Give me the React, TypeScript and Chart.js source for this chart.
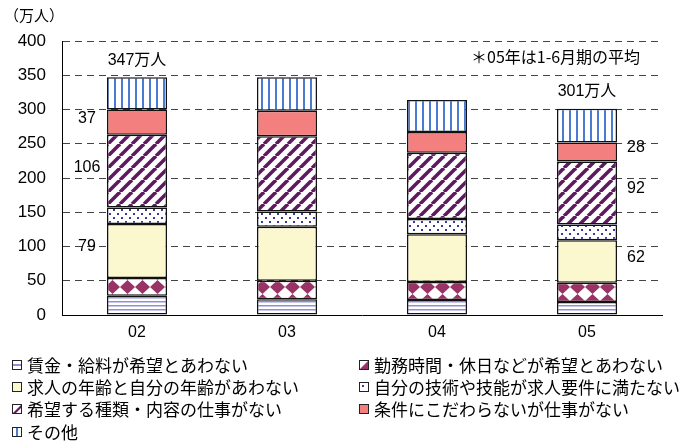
import React, { useEffect, useRef } from 'react';
import { Chart, registerables } from 'chart.js';

Chart.register(...registerables);

const categories = ['02', '03', '04', '05'];
const wage = [28, 23, 22, 19];
const hours = [26, 27, 26, 28];
const age = [79, 79, 70, 62];
const skill = [24, 22, 22, 23];
const kind = [106, 110, 97, 92];
const anyJob = [37, 37, 30, 28];
const other = [47, 49, 47, 49];

const seriesNames = [
  '賃金・給料が希望とあわない',
  '勤務時間・休日などが希望とあわない',
  '求人の年齢と自分の年齢があわない',
  '自分の技術や技能が求人要件に満たない',
  '希望する種類・内容の仕事がない',
  '条件にこだわらないが仕事がない',
  'その他',
];
const seriesValues = [wage, hours, age, skill, kind, anyJob, other];

const yMin = 0;
const yMax = 400;
const yStep = 50;

const totalLabels = ['347万人', '', '', '301万人'];
const leftBar = 0;
const leftSeries = [2, 4, 5];
const leftTexts = ['79', '106', '37'];
const rightBar = 3;
const rightSeries = [2, 4, 5];
const rightTexts = ['62', '92', '28'];

const unitLabel = '（万人）';
const noteLabel = '＊05年は1-6月期の平均';

const NUM_FONT = '"Liberation Sans", "Noto Sans CJK JP", sans-serif';
const JP_FONT = '"Noto Sans CJK JP", "Liberation Sans", sans-serif';

function tile(w: number, h: number, bg: string, draw: (c: CanvasRenderingContext2D) => void): CanvasPattern {
  const cv = document.createElement('canvas');
  cv.width = w;
  cv.height = h;
  const c = cv.getContext('2d')!;
  c.fillStyle = bg;
  c.fillRect(0, 0, w, h);
  draw(c);
  const ctx = document.createElement('canvas').getContext('2d')!;
  return ctx.createPattern(cv, 'repeat') as CanvasPattern;
}

function makeFills(): (string | CanvasPattern)[] {
  const stripesH = tile(4, 4, '#ffffff', (c) => {
    c.fillStyle = '#8e8ed2';
    c.fillRect(0, 1, 4, 1);
    c.fillStyle = '#c9c9ee';
    c.fillRect(0, 2, 4, 1);
  });
  const diamonds = tile(15, 14, '#ffffff', (c) => {
    c.fillStyle = '#993366';
    c.beginPath();
    c.moveTo(7.5, 0);
    c.lineTo(15, 7);
    c.lineTo(7.5, 14);
    c.lineTo(0, 7);
    c.closePath();
    c.fill();
  });
  const dots = tile(8, 8, '#ffffff', (c) => {
    c.fillStyle = '#3a3aa0';
    c.fillRect(1, 1, 2, 2);
    c.fillRect(5, 5, 2, 2);
  });
  const diag = tile(12, 12, '#ffffff', (c) => {
    c.strokeStyle = '#5e1a5e';
    c.lineWidth = 3.5;
    for (const o of [-12, 0, 12]) {
      c.beginPath();
      c.moveTo(o, 12);
      c.lineTo(o + 12, 0);
      c.stroke();
    }
  });
  const vstripes = tile(7, 4, '#ffffff', (c) => {
    c.fillStyle = '#4a7bd0';
    c.fillRect(2, 0, 2, 4);
  });
  return [stripesH, diamonds, '#fbf8d0', dots, diag, '#f47f7f', vstripes];
}

function drawSwatch(c: CanvasRenderingContext2D, i: number, x: number, y: number, s: number) {
  c.save();
  c.fillStyle = '#ffffff';
  c.fillRect(x, y, s, s);
  if (i === 0) {
    c.fillStyle = '#8e8ed2';
    c.fillRect(x, y + s / 2 - 1, s, 2);
  } else if (i === 1) {
    c.fillStyle = '#993366';
    c.beginPath();
    c.moveTo(x + s, y);
    c.lineTo(x + s, y + s);
    c.lineTo(x, y + s);
    c.closePath();
    c.fill();
  } else if (i === 2) {
    c.fillStyle = '#fbf8d0';
    c.fillRect(x, y, s, s);
  } else if (i === 3) {
    c.fillStyle = '#3a3aa0';
    c.fillRect(x + 3, y + 3, 2, 2);
  } else if (i === 4) {
    c.fillStyle = '#5e1a5e';
    c.beginPath();
    c.moveTo(x + s, y);
    c.lineTo(x + s, y + 3);
    c.lineTo(x + 3, y + s);
    c.lineTo(x, y + s);
    c.closePath();
    c.fill();
  } else if (i === 5) {
    c.fillStyle = '#f47f7f';
    c.fillRect(x, y, s, s);
  } else if (i === 6) {
    c.fillStyle = '#4a7bd0';
    c.fillRect(x + s / 2 - 1, y, 2, s);
  }
  c.strokeStyle = '#222';
  c.lineWidth = 1;
  c.strokeRect(x + 0.5, y + 0.5, s - 1, s - 1);
  c.restore();
}

const overlayPlugin = {
  id: 'overlay',
  afterDraw(chart: any) {
    const c: CanvasRenderingContext2D = chart.ctx;
    const xs = chart.scales.x;
    const ys = chart.scales.y;
    c.save();
    c.fillStyle = '#000';
    c.textBaseline = 'middle';

    c.textAlign = 'left';
    c.font = '15px ' + JP_FONT;
    c.fillText(unitLabel, 4, 15);

    c.font = '16px ' + JP_FONT;
    c.textAlign = 'left';
    c.fillText(noteLabel, 471, 57);

    c.textAlign = 'center';
    c.font = '16px ' + NUM_FONT;
    totalLabels.forEach((t, i) => {
      if (!t) return;
      const tot = seriesValues.reduce((s, a) => s + a[i], 0);
      c.fillText(t, xs.getPixelForValue(i), ys.getPixelForValue(tot) - 17);
    });

    const segMid = (bar: number, si: number) => {
      let base = 0;
      for (let k = 0; k < si; k++) base += seriesValues[k][bar];
      return ys.getPixelForValue(base + seriesValues[si][bar] / 2) - 4;
    };
    c.font = '16px ' + NUM_FONT;
    leftSeries.forEach((si, k) => {
      c.fillText(leftTexts[k], xs.getPixelForValue(leftBar) - 50, segMid(leftBar, si));
    });
    rightSeries.forEach((si, k) => {
      c.fillText(rightTexts[k], xs.getPixelForValue(rightBar) + 49, segMid(rightBar, si));
    });

    c.textAlign = 'left';
    c.font = '17px ' + JP_FONT;
    const colX = [12, 359];
    const rowY = [365, 387, 409, 432];
    seriesNames.forEach((name, i) => {
      const col = i % 2;
      const row = Math.floor(i / 2);
      const bx = colX[col];
      const cy = rowY[row];
      drawSwatch(c, i, bx, cy - 5, 10);
      c.fillStyle = '#000';
      c.fillText(name, bx + 15, cy + 1);
    });
    c.restore();
  },
};

export default function App() {
  const ref = useRef<HTMLCanvasElement>(null);
  useEffect(() => {
    const canvas = ref.current!;
    const fills = makeFills();
    const chart = new Chart(canvas, {
      type: 'bar',
      data: {
        labels: categories,
        datasets: seriesValues.map((vals, i) => ({
          label: seriesNames[i],
          data: vals,
          backgroundColor: fills[i] as any,
          borderColor: '#111',
          borderWidth: 1.5,
          borderSkipped: false,
          categoryPercentage: 1,
          barPercentage: 0.4,
        })),
      },
      options: {
        responsive: false,
        animation: false,
        devicePixelRatio: 1,
        layout: { padding: { top: 41, right: 20, left: 0, bottom: 0 } },
        plugins: {
          legend: { display: false },
          tooltip: { enabled: false },
        },
        scales: {
          x: {
            stacked: true,
            grid: { display: false, drawTicks: false },
            border: { display: true, color: '#000', width: 1 },
            ticks: { color: '#000', font: { family: NUM_FONT, size: 16 }, padding: 8 },
            afterFit: (s: any) => {
              s.height = 131;
            },
          },
          y: {
            stacked: true,
            min: yMin,
            max: yMax,
            ticks: { stepSize: yStep, color: '#000', font: { family: NUM_FONT, size: 17 }, padding: 16 },
            grid: { color: '#444', lineWidth: 1, drawTicks: false },
            border: { display: true, color: '#000', width: 1, dash: [7, 5] },
            afterFit: (s: any) => {
              s.width = 62;
            },
          },
        },
      },
      plugins: [overlayPlugin],
    });
    return () => chart.destroy();
  }, []);
  return (
    <div style={{ position: 'absolute', left: 0, top: 0, width: 682, height: 446, background: '#fff' }}>
      <canvas ref={ref} width={682} height={446} style={{ display: 'block' }} />
    </div>
  );
}
